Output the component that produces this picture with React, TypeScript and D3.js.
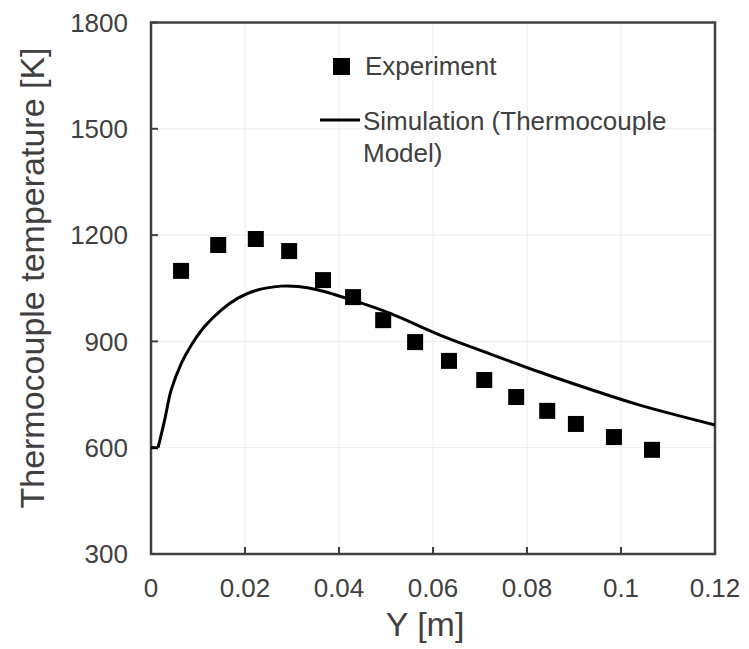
import React from "react";
import * as d3 from "d3";

const expX = [0.0064, 0.0143, 0.0223, 0.0294, 0.0366, 0.043, 0.0494, 0.0562, 0.0634, 0.0709, 0.0777, 0.0843, 0.0904, 0.0985, 0.1066];
const expT = [1099, 1172, 1189, 1155, 1073, 1025, 960, 898, 845, 791, 743, 704, 667, 630, 594];

const simX = [0, 0.0015, 0.0029, 0.0043, 0.00645, 0.0086, 0.0114, 0.015, 0.0185, 0.0221, 0.0277, 0.0313, 0.0356, 0.0427, 0.0509, 0.0615, 0.0721, 0.0828, 0.0934, 0.104, 0.12];
const simT = [600, 600, 678, 763, 838, 890, 942, 989, 1022, 1043, 1056, 1055, 1045, 1017, 979, 918, 865, 813, 765, 720, 664];

const xTicks = [0, 0.02, 0.04, 0.06, 0.08, 0.1, 0.12];
const xTickLabels = ["0", "0.02", "0.04", "0.06", "0.08", "0.1", "0.12"];
const yTicks = [300, 600, 900, 1200, 1500, 1800];

const W = 749;
const H = 649;
const L = 151;
const R = 715;
const T = 22.5;
const B = 554;

const FONT = "'Liberation Sans', Arial, Helvetica, sans-serif";
const TXT = "#404040";
const AX = "#404040";

export default function App() {
  const x = d3.scaleLinear().domain([0, 0.12]).range([L, R]);
  const y = d3.scaleLinear().domain([300, 1800]).range([B, T]);

  const simPts: [number, number][] = simX.map((v, i) => [v, simT[i]]);
  const lin = d3
    .line<[number, number]>()
    .x((d) => x(d[0]))
    .y((d) => y(d[1]));
  const smooth = d3
    .line<[number, number]>()
    .x((d) => x(d[0]))
    .y((d) => y(d[1]))
    .curve(d3.curveCatmullRom.alpha(0.5));

  const ms = 16;

  return (
    <svg
      width={W}
      height={H}
      style={{ position: "absolute", left: 0, top: 0, background: "#fff" }}
      fontFamily={FONT}
    >
      <rect x={0} y={0} width={W} height={H} fill="#fff" />
      {/* grid */}
      {xTicks.map((t) => (
        <line key={"gx" + t} x1={x(t)} x2={x(t)} y1={T} y2={B} stroke="#ececec" strokeWidth={1} />
      ))}
      {yTicks.map((t) => (
        <line key={"gy" + t} x1={L} x2={R} y1={y(t)} y2={y(t)} stroke="#ececec" strokeWidth={1} />
      ))}
      {/* ticks inside */}
      {xTicks.map((t) => (
        <line key={"tx" + t} x1={x(t)} x2={x(t)} y1={B} y2={B - 7} stroke={AX} strokeWidth={2} />
      ))}
      {yTicks.map((t) => (
        <line key={"ty" + t} x1={L} x2={L + 7} y1={y(t)} y2={y(t)} stroke={AX} strokeWidth={2} />
      ))}
      {/* frame */}
      <rect x={L} y={T} width={R - L} height={B - T} fill="none" stroke={AX} strokeWidth={2.5} />

      {/* simulation line */}
      <path d={lin(simPts.slice(0, 2)) || ""} fill="none" stroke="#000" strokeWidth={3} />
      <path d={smooth(simPts.slice(1)) || ""} fill="none" stroke="#000" strokeWidth={3} strokeLinejoin="round" />

      {/* experiment markers */}
      {expX.map((v, i) => (
        <rect key={"m" + i} x={x(v) - ms / 2} y={y(expT[i]) - ms / 2} width={ms} height={ms} fill="#000" />
      ))}

      {/* tick labels */}
      {xTicks.map((t, i) => (
        <text key={"lx" + t} x={x(t)} y={597} textAnchor="middle" fontSize={26} fill={TXT}>
          {xTickLabels[i]}
        </text>
      ))}
      {yTicks.map((t) => (
        <text key={"ly" + t} x={128} y={y(t)} dy="0.35em" textAnchor="end" fontSize={26} fill={TXT}>
          {t}
        </text>
      ))}

      {/* axis titles */}
      <text x={425} y={636} textAnchor="middle" fontSize={34} fill={TXT}>
        Y [m]
      </text>
      <text
        transform="translate(44,278) rotate(-90)"
        textAnchor="middle"
        fontSize={34}
        fill={TXT}
      >
        Thermocouple temperature [K]
      </text>

      {/* legend */}
      <rect x={333} y={58} width={17} height={17} fill="#000" />
      <text x={365} y={75} fontSize={26} fill={TXT}>
        Experiment
      </text>
      <line x1={320} x2={360} y1={120} y2={120} stroke="#000" strokeWidth={3} />
      <text x={363} y={130} fontSize={26} fill={TXT}>
        Simulation (Thermocouple
      </text>
      <text x={363} y={162} fontSize={26} fill={TXT}>
        Model)
      </text>
    </svg>
  );
}
